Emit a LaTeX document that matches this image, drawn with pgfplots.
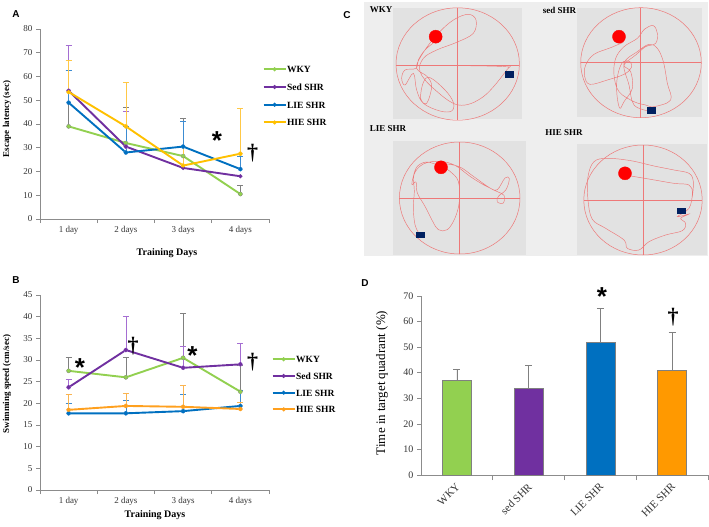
\documentclass[border=0pt]{standalone}
\usepackage{fontspec}
\setmainfont{Liberation Serif}
\newfontfamily\arialfont{Liberation Sans}
\usepackage{pgfplots}
\pgfplotsset{compat=1.18}
\definecolor{cWKY}{RGB}{146,208,80}
\definecolor{cSed}{RGB}{112,48,160}
\definecolor{cLIE}{RGB}{0,112,192}
\definecolor{cHIEa}{RGB}{255,192,0}
\definecolor{cHIEb}{RGB}{255,160,30}
\definecolor{cHIEd}{RGB}{255,153,0}
\definecolor{eWKY}{RGB}{128,128,128}
\definecolor{eSed}{RGB}{165,110,210}
\definecolor{eLIE}{RGB}{60,140,210}
\definecolor{eHIEa}{RGB}{255,200,70}
\definecolor{eHIEb}{RGB}{250,180,80}
\definecolor{bgC}{RGB}{238,238,238}
\definecolor{inC}{RGB}{226,226,226}
\definecolor{pathC}{RGB}{238,120,120}
\definecolor{navy}{RGB}{0,32,96}
\pgfplotsset{
  every axis/.append style={/pgf/number format/assume math mode=true},
  lineplot/.style={scale only axis, axis x line*=bottom, axis y line*=left,
    axis line style={-, draw=black!45, line width=0.7pt},
    xmin=0, xmax=4, xtick={0.5,1.5,2.5,3.5},
    xticklabels={1 day,2 days,3 days,4 days},
    minor xtick={0,1,2,3,4}, major x tick style={draw=none},
    tick align=outside, major tick length=4pt, minor tick length=4pt,
    tick style={draw=black!45, line width=0.6pt},
    tick label style={font=\fontsize{9}{10}\selectfont, text=black!80},
    clip=false, legend cell align=left,
    legend image code/.code={\draw[mark repeat=2, mark phase=2, ##1] plot coordinates {(0pt,0pt) (11pt,0pt) (22pt,0pt)};}},
  ln/.style={line width=1.9pt, mark=*, mark size=0.9pt},
  eb/.style={only marks, mark=none, forget plot, error bars/.cd, y dir=plus, y explicit,
    error bar style={line width=0.7pt}, error mark options={rotate=90, line width=0.7pt, mark size=3pt}},
  subc/.style={scale only axis, hide axis, clip=false, y dir=reverse, anchor=north west, xmin=0, ymin=0},
  pth/.style={smooth, tension=0.6, draw=pathC, line width=0.45pt, mark=none},
  rdot/.style={only marks, mark=*, mark size=6.5pt, color=red},
  bsq/.style={only marks, mark=square*, mark size=4pt, color=navy, mark options={yscale=0.7}}
}
\begin{document}
\begin{tikzpicture}[x=1pt,y=1pt]
\useasboundingbox (0,0) rectangle (709,-527);
% ---------------- Panel A ----------------
\node[font=\arialfont\bfseries\fontsize{10}{10}\selectfont] at (16,-14) {A};
\begin{axis}[lineplot, at={(40pt,-219pt)}, anchor=south west, width=229pt, height=190pt,
  ymin=0, ymax=80, ytick={0,10,...,80},
  legend style={at={(0.9716,0.81)}, anchor=north west, draw=none, fill=none, inner sep=0pt,
    row sep=9.7pt, font=\fontsize{9.5}{10}\selectfont\bfseries,
    nodes={inner sep=0.5pt, text height=7pt, text depth=0pt}}]
\addplot[eWKY, eb] coordinates {(0.5,39) +- (0,23.5) (1.5,32) +- (0,15) (2.5,26.5) +- (0,16) (3.5,10.5) +- (0,3.5)};
\addplot[eSed, eb] coordinates {(0.5,54) +- (0,19) (1.5,30.5) +- (0,15)};
\addplot[eLIE, eb] coordinates {(0.5,49) +- (0,13.5) (1.5,28) +- (0,11) (2.5,30.5) +- (0,10.5) (3.5,21) +- (0,5.5)};
\addplot[eHIEa, eb] coordinates {(0.5,53.5) +- (0,13.5) (1.5,39) +- (0,18.5) (2.5,22.5) +- (0,7.5) (3.5,27.5) +- (0,19)};
\addplot[cWKY, ln] coordinates {(0.5,39) (1.5,32) (2.5,26.5) (3.5,10.5)};
\addplot[cSed, ln] coordinates {(0.5,54) (1.5,30.5) (2.5,21.5) (3.5,18)};
\addplot[cLIE, ln] coordinates {(0.5,49) (1.5,28) (2.5,30.5) (3.5,21)};
\addplot[cHIEa, ln] coordinates {(0.5,53.5) (1.5,39) (2.5,22.5) (3.5,27.5)};
\legend{WKY,Sed SHR,LIE SHR,HIE SHR}
\end{axis}
\node[rotate=90, font=\bfseries\fontsize{9}{10}\selectfont] at (7,-119) {Escape latency (sec)};
\node[font=\bfseries\fontsize{10}{10}\selectfont] at (167,-253) {Training Days};
\node[font=\arialfont\bfseries\fontsize{26}{26}\selectfont, inner sep=0pt] at (217,-140.5) {*};
\node[font=\bfseries\fontsize{22}{22}\selectfont, inner sep=0pt] at (252.5,-153) {†};
% ---------------- Panel B ----------------
\node[font=\arialfont\bfseries\fontsize{10}{10}\selectfont] at (16,-280) {B};
\begin{axis}[lineplot, at={(40pt,-490pt)}, anchor=south west, width=229pt, height=195pt,
  ymin=0, ymax=45, ytick={0,5,...,45},
  legend style={at={(1.011,0.692)}, anchor=north west, draw=none, fill=none, inner sep=0pt,
    row sep=8.7pt, font=\fontsize{9.5}{10}\selectfont\bfseries,
    nodes={inner sep=0.5pt, text height=7pt, text depth=0pt}}]
\addplot[eWKY, eb] coordinates {(0.5,27.5) +- (0,3.1) (1.5,26) +- (0,4.5) (2.5,30.5) +- (0,10.3) (3.5,22.7) +- (0,6)};
\addplot[eSed, eb] coordinates {(0.5,23.7) +- (0,1.9) (1.5,32.3) +- (0,7.7) (2.5,28.2) +- (0,4.9) (3.5,29) +- (0,4.8)};
\addplot[eLIE, eb] coordinates {(0.5,17.7) +- (0,2.2) (1.5,17.7) +- (0,2.9) (2.5,18.2) +- (0,3.9) (3.5,19.4) +- (0,3.6)};
\addplot[eHIEb, eb] coordinates {(0.5,18.5) +- (0,3.5) (1.5,19.4) +- (0,3) (2.5,19.2) +- (0,4.9) (3.5,18.7) +- (0,1.6)};
\addplot[cWKY, ln] coordinates {(0.5,27.5) (1.5,26) (2.5,30.5) (3.5,22.7)};
\addplot[cSed, ln] coordinates {(0.5,23.7) (1.5,32.3) (2.5,28.2) (3.5,29)};
\addplot[cLIE, ln] coordinates {(0.5,17.7) (1.5,17.7) (2.5,18.2) (3.5,19.4)};
\addplot[cHIEb, ln] coordinates {(0.5,18.5) (1.5,19.4) (2.5,19.2) (3.5,18.7)};
\legend{WKY,Sed SHR,LIE SHR,HIE SHR}
\end{axis}
\node[rotate=90, font=\bfseries\fontsize{9}{10}\selectfont] at (7,-384) {Swimming speed (cm/sec)};
\node[font=\bfseries\fontsize{10}{10}\selectfont] at (155,-515) {Training Days};
\node[font=\arialfont\bfseries\fontsize{26}{26}\selectfont, inner sep=0pt] at (80,-368) {*};
\node[font=\bfseries\fontsize{22}{22}\selectfont, inner sep=0pt] at (133,-346) {†};
\node[font=\arialfont\bfseries\fontsize{26}{26}\selectfont, inner sep=0pt] at (192.5,-355.5) {*};
\node[font=\bfseries\fontsize{22}{22}\selectfont, inner sep=0pt] at (252.5,-362) {†};
% ---------------- Panel C ----------------
\node[font=\arialfont\bfseries\fontsize{10}{10}\selectfont] at (347,-15) {C};
\fill[bgC] (364,-2) rectangle (708,-256);
\fill[inC] (393,-8) rectangle (522,-119);
\fill[inC] (577,-8) rectangle (702,-117);
\fill[inC] (393,-141) rectangle (526,-255);
\fill[inC] (577,-144) rectangle (707,-255);
\begin{scope}[draw=pathC, line width=0.5pt]
\draw (457.7,-64) ellipse [x radius=61.7, y radius=56.2];
\draw (396,-65) -- (519,-65); \draw (457.7,-8) -- (457.7,-120);
\draw (641,-62.7) ellipse [x radius=60.3, y radius=55];
\draw (581,-62.3) -- (701,-62.3); \draw (640,-7.7) -- (640,-117.7);
\draw (459.7,-198) ellipse [x radius=60.3, y radius=56];
\draw (399,-198.7) -- (520,-198.7); \draw (459.3,-142) -- (459.3,-254);
\draw (643,-200) ellipse [x radius=59.2, y radius=55];
\draw (584,-200.3) -- (702,-200.3); \draw (643,-145) -- (643,-255);
\end{scope}
\node[font=\bfseries\fontsize{9}{10}\selectfont] at (381,-10) {WKY};
\node[font=\bfseries\fontsize{9}{10}\selectfont] at (559.5,-10) {sed SHR};
\node[font=\bfseries\fontsize{9}{10}\selectfont] at (388,-129) {LIE SHR};
\node[font=\bfseries\fontsize{9}{10}\selectfont] at (564,-133) {HIE SHR};
\begin{axis}[subc, at={(390pt,-5pt)}, width=135pt, height=118pt, xmax=405, ymax=354]
\addplot[pth] coordinates {(135,110) (105,135) (85,165) (78,190) (45,195) (35,220) (45,240) (70,205) (80,255) (100,295) (150,318) (185,318) (190,292) (165,255) (120,218) (100,232) (92,280) (110,295) (125,245) (112,215) (80,190) (95,150) (140,90) (190,45) (235,28) (258,45) (250,85) (200,112) (140,135) (100,160) (90,200) (130,250) (205,300) (280,275) (350,195) (345,185) (210,182)};
\addplot[rdot] coordinates {(137,95)};
\addplot[bsq] coordinates {(357,208)};
\end{axis}
\begin{axis}[subc, at={(574pt,-5pt)}, width=132pt, height=118pt, xmax=396, ymax=354]
\addplot[pth] coordinates {(148,112) (110,128) (60,148) (35,180) (32,215) (48,238) (100,225) (150,208) (172,188) (168,170) (148,170) (135,195) (128,235) (130,280) (138,310) (150,290) (175,250) (170,200) (150,180) (185,150) (215,125) (245,115) (250,85) (238,62) (212,72) (190,100) (150,125) (125,160) (120,210) (135,260) (180,290) (215,300) (240,305) (290,285) (280,235) (268,170) (250,130) (225,118) (190,140) (150,175) (165,240) (180,300) (225,318)};
\addplot[rdot] coordinates {(135,95)};
\addplot[bsq] coordinates {(232,315)};
\end{axis}
\begin{axis}[subc, at={(390pt,-138pt)}, width=135pt, height=120pt, xmax=405, ymax=360]
\addplot[pth] coordinates {(145,82) (110,72) (82,85) (70,115) (66,140) (78,132) (82,165) (105,205) (128,250) (145,275) (172,275) (195,240) (208,190) (205,130) (180,100) (150,78) (205,85) (250,115) (300,150) (322,155) (345,120) (358,122) (348,155) (325,175) (322,192) (340,195) (342,172) (320,160) (280,140) (240,115) (195,82) (150,70) (100,78) (72,110) (73,160) (70,210) (75,260) (88,288)};
\addplot[rdot] coordinates {(153,88)};
\addplot[bsq] coordinates {(92,290)};
\end{axis}
\begin{axis}[subc, at={(574pt,-140pt)}, width=132pt, height=118pt, xmax=396, ymax=354]
\addplot[pth] coordinates {(170,108) (230,118) (300,130) (345,135) (355,160) (345,205) (310,230) (345,222) (320,235) (335,250) (325,272) (275,285) (225,305) (195,330) (160,325) (150,300) (95,265) (55,238) (42,180) (42,110) (60,65) (100,55) (170,62) (240,78) (300,90) (345,100) (358,125) (355,170)};
\addplot[rdot] coordinates {(153,100)};
\addplot[bsq] coordinates {(322,212)};
\end{axis}
% ---------------- Panel D ----------------
\node[font=\arialfont\bfseries\fontsize{10}{10}\selectfont] at (365,-283) {D};
\begin{axis}[scale only axis, at={(421pt,-475pt)}, anchor=south west, width=287pt, height=179pt,
  axis x line*=bottom, axis y line*=left, axis line style={-, draw=black!45, line width=0.7pt},
  xmin=-0.5, xmax=3.5, ymin=0, ymax=70, ytick={0,10,...,70},
  xtick={0,1,2,3}, xticklabels={WKY,sed SHR,LIE SHR,HIE SHR},
  minor xtick={0.5,1.5,2.5,3.5}, major x tick style={draw=none},
  tick align=outside, major tick length=4pt, minor tick length=5pt,
  tick style={draw=black!45, line width=0.6pt},
  y tick label style={font=\fontsize{10}{10}\selectfont, text=black!80},
  x tick label style={font=\fontsize{11}{11}\selectfont, text=black!80, rotate=45, anchor=north east, yshift=2pt},
  clip=false]
\addplot[ybar, bar width=29pt, fill=cWKY, draw=black!50, error bars/.cd, y dir=plus, y explicit, error bar style={black!50, line width=0.6pt}, error mark options={rotate=90, black!50, line width=0.6pt, mark size=3.5pt}] coordinates {(0,37) +- (0,4.5)};
\addplot[ybar, bar width=29pt, fill=cSed, draw=black!50, error bars/.cd, y dir=plus, y explicit, error bar style={black!50, line width=0.6pt}, error mark options={rotate=90, black!50, line width=0.6pt, mark size=3.5pt}] coordinates {(1,34) +- (0,9)};
\addplot[ybar, bar width=29pt, fill=cLIE, draw=black!50, error bars/.cd, y dir=plus, y explicit, error bar style={black!50, line width=0.6pt}, error mark options={rotate=90, black!50, line width=0.6pt, mark size=3.5pt}] coordinates {(2,52) +- (0,13.3)};
\addplot[ybar, bar width=29pt, fill=cHIEd, draw=black!50, error bars/.cd, y dir=plus, y explicit, error bar style={black!50, line width=0.6pt}, error mark options={rotate=90, black!50, line width=0.6pt, mark size=3.5pt}] coordinates {(3,41) +- (0,14.8)};
\end{axis}
\node[rotate=90, font=\fontsize{13}{13}\selectfont] at (382,-383) {Time in target quadrant (\%)};
\node[font=\arialfont\bfseries\fontsize{26}{26}\selectfont, inner sep=0pt] at (602,-297) {*};
\node[font=\bfseries\fontsize{22}{22}\selectfont, inner sep=0pt] at (673,-317) {†};
\end{tikzpicture}
\end{document}
